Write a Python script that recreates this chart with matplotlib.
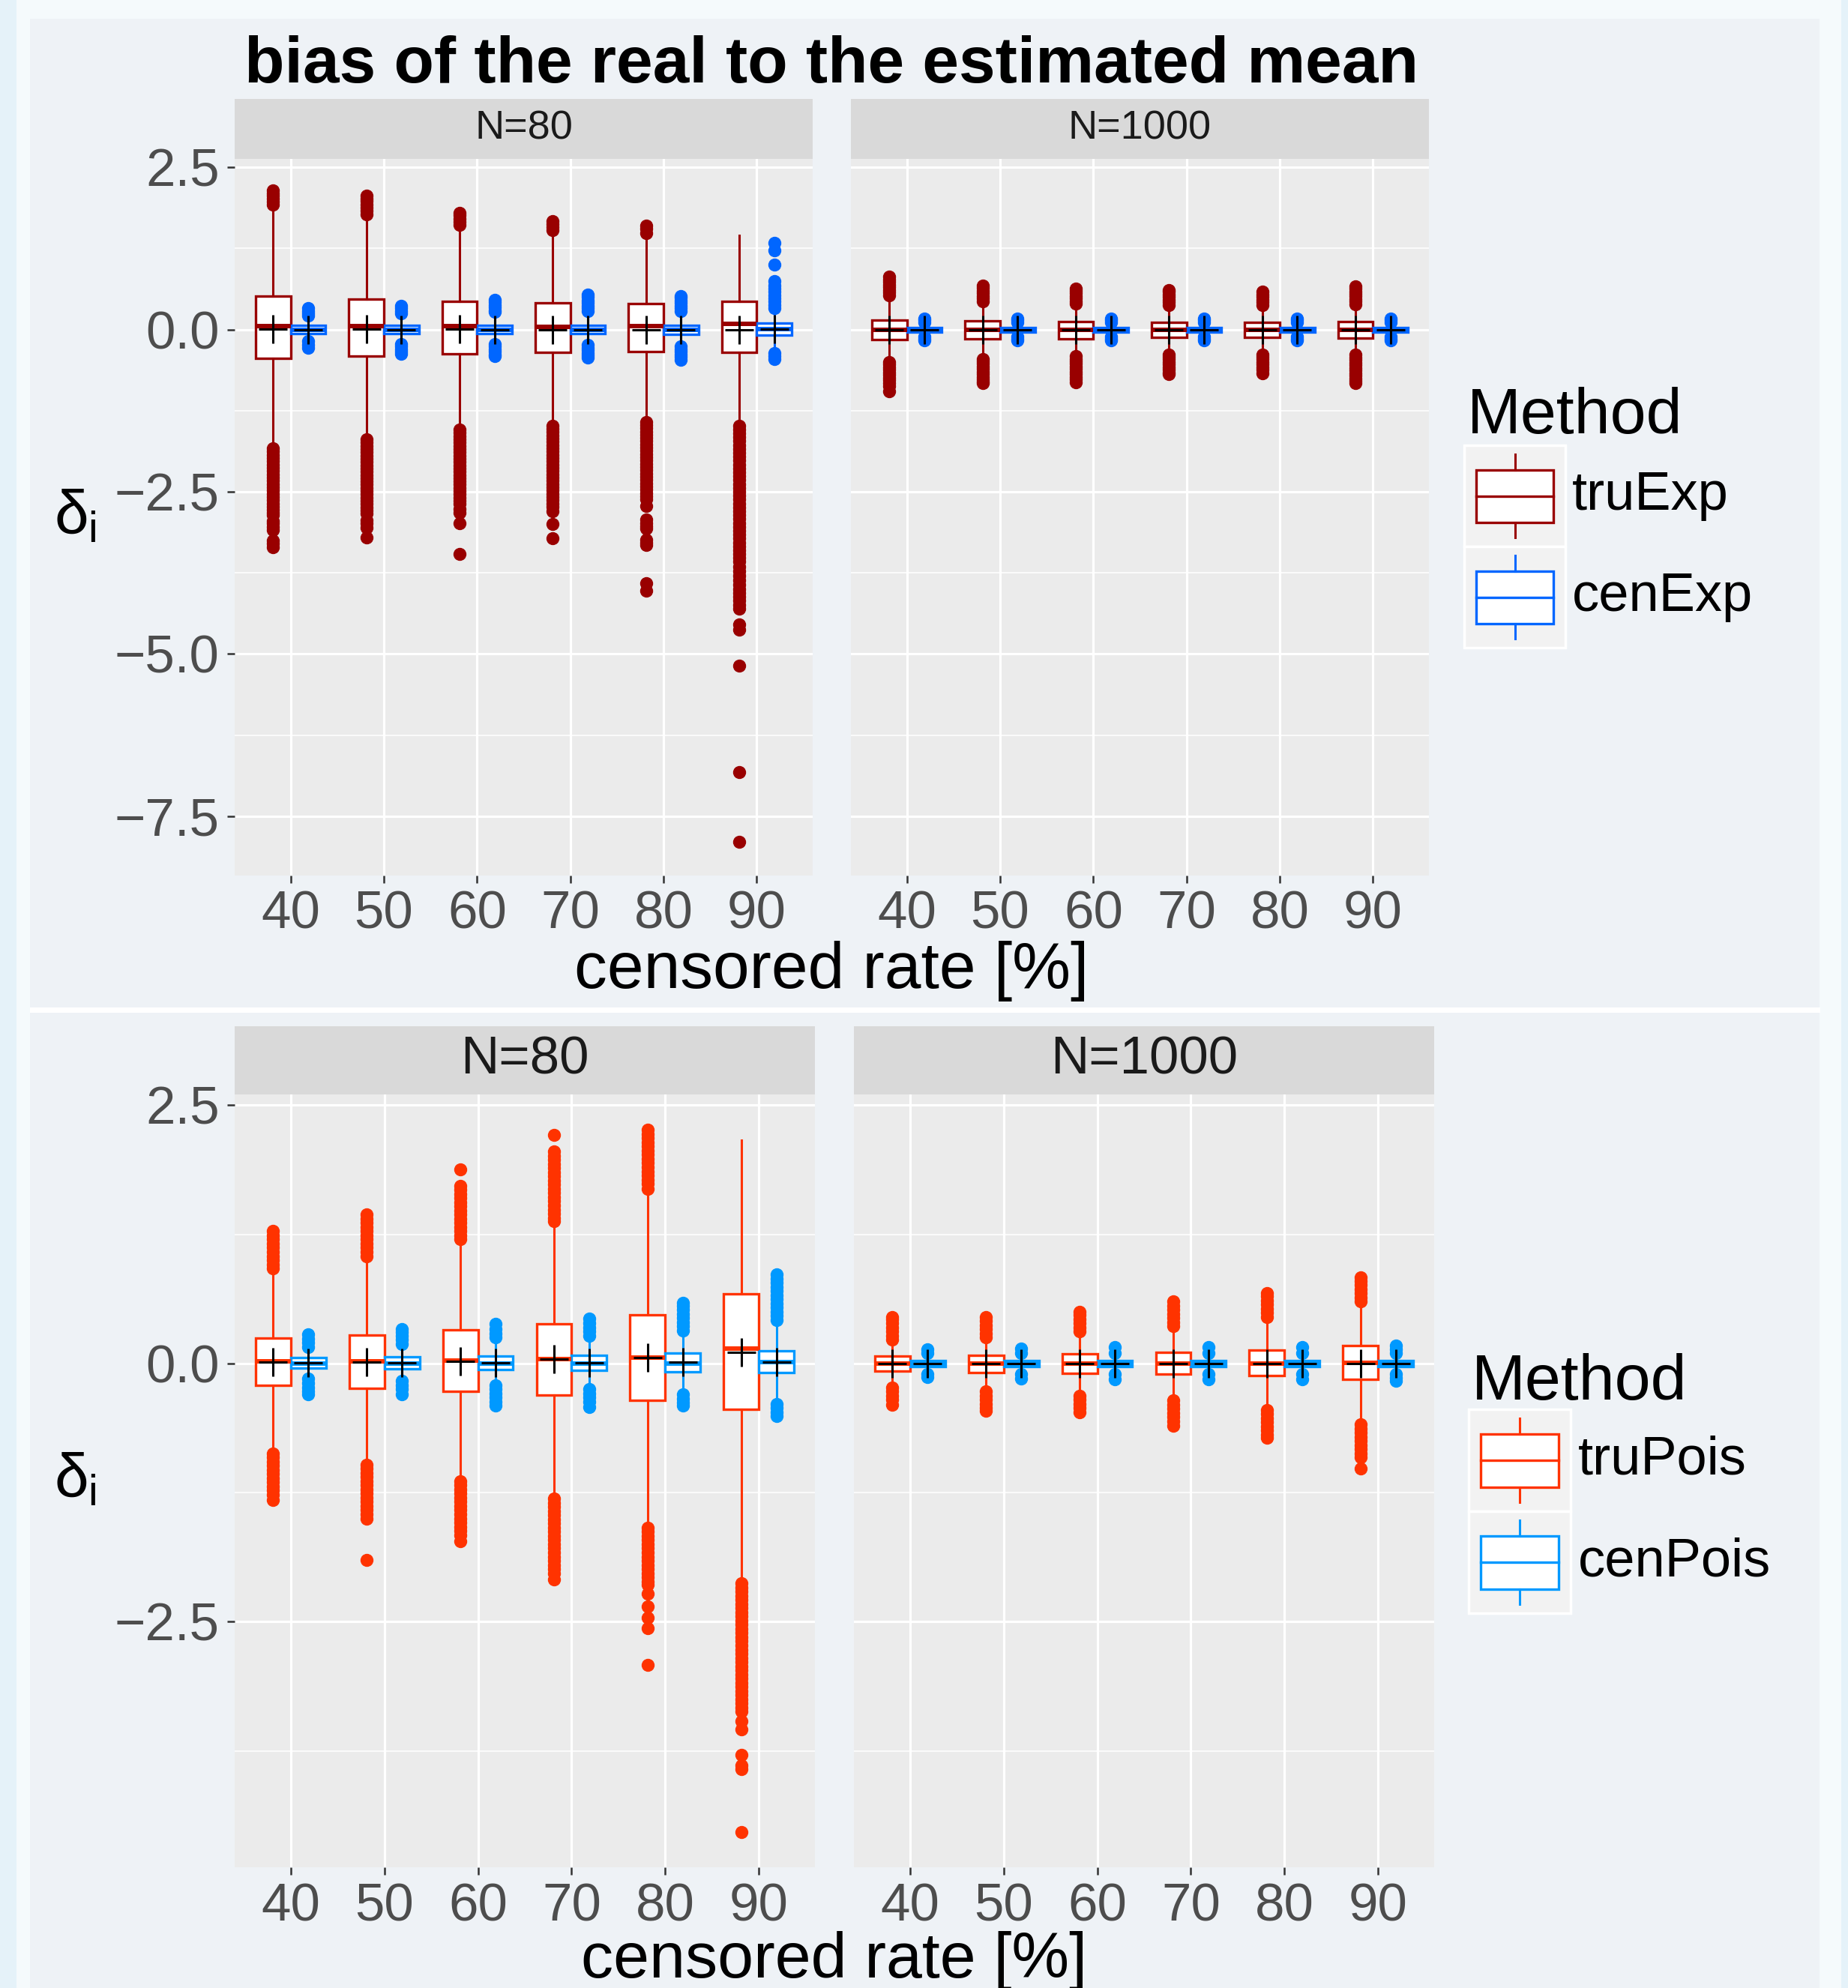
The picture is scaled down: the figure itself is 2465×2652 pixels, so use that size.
import numpy as np
import matplotlib
matplotlib.use("Agg")
import matplotlib.pyplot as plt
from matplotlib.patches import Rectangle

plt.rcParams['font.family'] = ['Liberation Sans', 'DejaVu Sans']
plt.rcParams['mathtext.fontset'] = 'custom'
plt.rcParams['mathtext.rm'] = 'Liberation Sans'
plt.rcParams['mathtext.it'] = 'Liberation Sans'

W, H = 2465, 2652

# ---- data ----
rates = ['40', '50', '60', '70', '80', '90']
sizes = ['N=80', 'N=1000']

top_yticks = [-7.5, -5.0, -2.5, 0.0, 2.5]
top_ylabels = ['\u22127.5', '\u22125.0', '\u22122.5', '0.0', '2.5']
top_minor = [-6.25, -3.75, -1.25, 1.25]
bot_yticks = [-2.5, 0.0, 2.5]
bot_ylabels = ['\u22122.5', '0.0', '2.5']
bot_minor = [-3.75, -1.25, 1.25]

# box stats per censored rate: (whislo, q1, med, q3, whishi, mean)
exp80_tru = [(-1.77, -0.44, 0.058, 0.52, 1.88, 0.01),
             (-1.62, -0.41, 0.058, 0.47, 1.72, 0.005),
             (-1.50, -0.375, 0.058, 0.43, 1.57, 0.01),
             (-1.44, -0.355, 0.045, 0.41, 1.50, 0.0),
             (-1.38, -0.334, 0.058, 0.40, 1.46, 0.0),
             (-1.44, -0.346, 0.087, 0.43, 1.45, 0.0)]
exp80_tru_out = [
    [2.14, 2.10, 2.06, 2.02, 1.97, 1.92,
     -1.83, -1.88, -1.93, -1.98, -2.03, -2.08, -2.13, -2.18, -2.23, -2.28, -2.33, -2.38, -2.43,
     -2.48, -2.53, -2.58, -2.63, -2.68, -2.73, -2.78, -2.82, -2.86, -2.95, -2.99, -3.04, -3.09,
     -3.25, -3.30, -3.36],
    [2.06, 2.02, 1.98, 1.93, 1.88, 1.83, 1.78,
     -1.69, -1.74, -1.79, -1.84, -1.89, -1.94, -1.99, -2.04, -2.09, -2.14, -2.19, -2.24, -2.29,
     -2.34, -2.39, -2.44, -2.49, -2.54, -2.59, -2.64, -2.69, -2.74, -2.79, -2.84, -2.94, -2.99,
     -3.06, -3.21],
    [1.80, 1.76, 1.71, 1.66, 1.61,
     -1.54, -1.59, -1.64, -1.69, -1.74, -1.79, -1.84, -1.89, -1.94, -1.99, -2.04, -2.09, -2.14,
     -2.19, -2.24, -2.29, -2.34, -2.39, -2.44, -2.49, -2.54, -2.59, -2.64, -2.69, -2.76, -2.82,
     -2.98, -3.46],
    [1.67, 1.63, 1.58, 1.53,
     -1.48, -1.53, -1.58, -1.63, -1.68, -1.73, -1.78, -1.83, -1.88, -1.93, -1.98, -2.03, -2.08,
     -2.13, -2.18, -2.23, -2.28, -2.33, -2.38, -2.43, -2.48, -2.53, -2.58, -2.63, -2.68, -2.73,
     -2.80, -3.00, -3.22],
    [1.60, 1.55, 1.49,
     -1.42, -1.47, -1.52, -1.57, -1.62, -1.67, -1.72, -1.77, -1.82, -1.87, -1.92, -1.97, -2.02,
     -2.07, -2.12, -2.17, -2.22, -2.27, -2.32, -2.37, -2.42, -2.47, -2.52, -2.57, -2.62, -2.72,
     -2.93, -2.98, -3.03, -3.07, -3.24, -3.28, -3.32, -3.91, -4.02],
    [-1.48, -1.54, -1.60, -1.66, -1.72, -1.78, -1.84, -1.90, -1.96, -2.02, -2.08, -2.14, -2.20,
     -2.26, -2.32, -2.38, -2.44, -2.50, -2.56, -2.62, -2.68, -2.74, -2.80, -2.86, -2.92, -2.98,
     -3.04, -3.10, -3.16, -3.22, -3.28, -3.34, -3.40, -3.46, -3.52, -3.58, -3.65, -3.72, -3.79,
     -3.86, -3.93, -4.00, -4.06, -4.12, -4.18, -4.24, -4.30, -4.55, -4.63, -5.18, -6.82, -7.90]]

exp80_cen = [(-0.15, -0.06, 0.0, 0.06, 0.18, 0.0),
             (-0.18, -0.06, 0.0, 0.06, 0.21, 0.0),
             (-0.18, -0.065, 0.0, 0.065, 0.23, 0.0),
             (-0.20, -0.065, 0.0, 0.07, 0.25, 0.0),
             (-0.22, -0.07, 0.0, 0.07, 0.25, 0.0),
             (-0.32, -0.08, 0.01, 0.10, 0.29, 0.01)]
exp80_cen_out = [
    [0.21, 0.25, 0.29, 0.33, -0.18, -0.23, -0.28],
    [0.25, 0.29, 0.33, 0.37, -0.22, -0.26, -0.30, -0.34, -0.37],
    [0.27, 0.30, 0.34, 0.38, 0.42, 0.46, -0.22, -0.26, -0.30, -0.34, -0.38, -0.41],
    [0.29, 0.33, 0.37, 0.41, 0.45, 0.50, 0.54, -0.24, -0.28, -0.32, -0.36, -0.40, -0.43],
    [0.29, 0.33, 0.37, 0.41, 0.45, 0.49, 0.52, -0.26, -0.30, -0.34, -0.38, -0.42, -0.47],
    [0.33, 0.38, 0.43, 0.48, 0.53, 0.58, 0.63, 0.68, 0.75, 1.00, 1.22, 1.34, -0.36, -0.41, -0.46]]

exp1000_tru = [(-0.45, -0.154, 0.0, 0.146, 0.48, 0.0),
               (-0.41, -0.146, 0.0, 0.135, 0.40, 0.0),
               (-0.37, -0.139, 0.0, 0.123, 0.36, 0.0),
               (-0.34, -0.123, 0.0, 0.115, 0.34, 0.0),
               (-0.34, -0.123, 0.0, 0.115, 0.34, 0.0),
               (-0.35, -0.131, 0.0, 0.123, 0.35, 0.0)]
exp1000_tru_out = [
    [0.53, 0.57, 0.61, 0.65, 0.69, 0.73, 0.77, 0.82,
     -0.50, -0.54, -0.58, -0.62, -0.66, -0.70, -0.74, -0.78, -0.82, -0.87, -0.95],
    [0.44, 0.48, 0.52, 0.56, 0.60, 0.64, 0.68,
     -0.45, -0.49, -0.53, -0.57, -0.61, -0.65, -0.69, -0.73, -0.77, -0.80, -0.83],
    [0.40, 0.44, 0.48, 0.52, 0.56, 0.60, 0.63,
     -0.41, -0.45, -0.49, -0.53, -0.57, -0.61, -0.65, -0.69, -0.73, -0.77, -0.81],
    [0.38, 0.42, 0.46, 0.50, 0.54, 0.58, 0.61,
     -0.38, -0.42, -0.46, -0.50, -0.54, -0.58, -0.62, -0.66, -0.69],
    [0.38, 0.42, 0.46, 0.50, 0.54, 0.59,
     -0.38, -0.42, -0.46, -0.50, -0.54, -0.58, -0.62, -0.67],
    [0.39, 0.43, 0.47, 0.51, 0.55, 0.59, 0.63, 0.66,
     -0.39, -0.43, -0.47, -0.51, -0.55, -0.59, -0.63, -0.67, -0.71, -0.75, -0.79, -0.82]]

exp1000_cen = [(-0.09, -0.035, 0.0, 0.035, 0.09, 0.0)] * 6
exp1000_cen_out = [[0.11, 0.14, 0.17, -0.11, -0.14, -0.17]] * 6

pois80_tru = [(-0.83, -0.212, 0.021, 0.246, 0.87, 0.013),
              (-0.94, -0.244, 0.021, 0.272, 0.98, 0.013),
              (-1.10, -0.27, 0.028, 0.324, 1.14, 0.02),
              (-1.27, -0.303, 0.041, 0.383, 1.34, 0.039),
              (-1.54, -0.355, 0.06, 0.469, 1.65, 0.054),
              (-2.06, -0.446, 0.143, 0.676, 2.16, 0.106)]
pois80_tru_out = [
    [1.28, 1.24, 1.20, 1.16, 1.12, 1.08, 1.04, 1.00, 0.96, 0.92,
     -0.87, -0.91, -0.95, -0.99, -1.03, -1.07, -1.11, -1.15, -1.19, -1.23, -1.27, -1.32],
    [1.44, 1.40, 1.36, 1.32, 1.28, 1.24, 1.20, 1.16, 1.12, 1.08, 1.04,
     -0.98, -1.02, -1.06, -1.10, -1.14, -1.18, -1.22, -1.26, -1.30, -1.34, -1.38, -1.42, -1.46,
     -1.50, -1.90],
    [1.88, 1.72, 1.68, 1.64, 1.60, 1.56, 1.52, 1.48, 1.44, 1.40, 1.36, 1.32, 1.28, 1.24, 1.20,
     -1.14, -1.18, -1.22, -1.26, -1.30, -1.34, -1.38, -1.42, -1.46, -1.50, -1.54, -1.58, -1.62,
     -1.66, -1.72],
    [2.21, 2.05, 2.01, 1.97, 1.93, 1.89, 1.85, 1.81, 1.77, 1.73, 1.69, 1.65, 1.61, 1.57, 1.53,
     1.49, 1.45, 1.41, 1.38,
     -1.31, -1.35, -1.39, -1.43, -1.47, -1.51, -1.55, -1.59, -1.63, -1.67, -1.71, -1.75, -1.79,
     -1.83, -1.87, -1.91, -1.95, -1.99, -2.03, -2.09],
    [2.26, 2.22, 2.18, 2.14, 2.10, 2.06, 2.02, 1.98, 1.94, 1.90, 1.86, 1.82, 1.78, 1.74, 1.69,
     -1.59, -1.63, -1.67, -1.71, -1.75, -1.79, -1.83, -1.87, -1.91, -1.95, -1.99, -2.03, -2.07,
     -2.11, -2.14, -2.23, -2.35, -2.46, -2.56, -2.92],
    [-2.13, -2.17, -2.21, -2.25, -2.29, -2.33, -2.37, -2.41, -2.45, -2.49, -2.53, -2.57, -2.61,
     -2.65, -2.69, -2.73, -2.77, -2.81, -2.85, -2.89, -2.93, -2.97, -3.01, -3.05, -3.09, -3.13,
     -3.17, -3.21, -3.25, -3.29, -3.33, -3.37, -3.46, -3.54, -3.79, -3.89, -3.93, -4.54]]

pois80_cen = [(-0.12, -0.044, 0.0, 0.054, 0.13, 0.005),
              (-0.13, -0.05, 0.0, 0.065, 0.15, 0.005),
              (-0.17, -0.06, 0.0, 0.07, 0.21, 0.005),
              (-0.21, -0.07, 0.0, 0.08, 0.23, 0.005),
              (-0.26, -0.078, 0.0, 0.098, 0.28, 0.01),
              (-0.34, -0.091, 0.01, 0.124, 0.38, 0.01)]
pois80_cen_out = [
    [0.16, 0.20, 0.24, 0.28, -0.15, -0.19, -0.23, -0.27, -0.30],
    [0.19, 0.23, 0.27, 0.30, 0.33, -0.17, -0.21, -0.25, -0.30],
    [0.25, 0.29, 0.33, 0.38, -0.21, -0.25, -0.29, -0.33, -0.37, -0.41],
    [0.27, 0.31, 0.35, 0.39, 0.435, -0.25, -0.29, -0.33, -0.37, -0.42],
    [0.32, 0.36, 0.40, 0.44, 0.48, 0.52, 0.56, 0.59, -0.30, -0.34, -0.38, -0.41],
    [0.42, 0.46, 0.50, 0.54, 0.58, 0.62, 0.66, 0.70, 0.74, 0.78, 0.82, 0.86,
     -0.39, -0.43, -0.47, -0.51]]

pois1000_tru = [(-0.20, -0.073, 0.0, 0.073, 0.19, 0.0),
                (-0.23, -0.085, 0.0, 0.077, 0.22, 0.0),
                (-0.28, -0.097, 0.0, 0.09, 0.27, 0.0),
                (-0.33, -0.104, 0.0, 0.104, 0.32, 0.0),
                (-0.41, -0.121, 0.0, 0.128, 0.41, 0.0),
                (-0.56, -0.152, 0.007, 0.17, 0.57, 0.0)]
pois1000_tru_out = [
    [0.23, 0.27, 0.31, 0.35, 0.39, 0.43, 0.45, -0.23, -0.27, -0.31, -0.35, -0.40],
    [0.25, 0.29, 0.33, 0.37, 0.41, 0.45, -0.27, -0.31, -0.35, -0.39, -0.43, -0.46],
    [0.31, 0.35, 0.39, 0.43, 0.47, 0.50, -0.31, -0.35, -0.39, -0.43, -0.47],
    [0.36, 0.40, 0.44, 0.48, 0.52, 0.56, 0.60, -0.36, -0.40, -0.44, -0.48, -0.52, -0.56, -0.60],
    [0.45, 0.49, 0.53, 0.57, 0.61, 0.65, 0.68,
     -0.45, -0.49, -0.53, -0.57, -0.61, -0.65, -0.69, -0.72],
    [0.60, 0.64, 0.68, 0.72, 0.76, 0.80, 0.83,
     -0.59, -0.63, -0.67, -0.71, -0.75, -0.79, -0.83, -0.87, -0.91, -1.02]]

pois1000_cen = [(-0.07, -0.03, 0.0, 0.03, 0.07, 0.0)] * 6
pois1000_cen_out = [[0.10, 0.133, -0.10, -0.133],
                    [0.10, 0.145, -0.10, -0.145],
                    [0.10, 0.155, -0.10, -0.155],
                    [0.10, 0.155, -0.10, -0.155],
                    [0.10, 0.155, -0.10, -0.155],
                    [0.10, 0.14, 0.17, -0.10, -0.14, -0.17]]

exp_methods = ['truExp', 'cenExp']
pois_methods = ['truPois', 'cenPois']
exp_colors = ['#990000', '#0066FF']
pois_colors = ['#FF3300', '#0099FF']


def frac(x0, y0, x1, y1):
    return [x0 / W, 1 - y1 / H, (x1 - x0) / W, (y1 - y0) / H]


def to_dicts(stats, fliers):
    out = []
    for (lo, q1, med, q3, hi, mean), fl in zip(stats, fliers):
        out.append(dict(whislo=lo, q1=q1, med=med, q3=q3, whishi=hi, mean=mean,
                        fliers=np.array(fl)))
    return out


def panel(ax, series, colors, ylim, yticks, ylabels, minor, show_y):
    ax.set_facecolor('#EBEBEB')
    for s in ax.spines.values():
        s.set_visible(False)
    ax.set_xlim(0.4, 6.6)
    ax.set_ylim(*ylim)
    ax.set_xticks(range(1, 7))
    ax.set_xticklabels(rates)
    ax.set_yticks(yticks)
    ax.set_yticklabels(ylabels)
    ax.set_yticks(minor, minor=True)
    ax.set_axisbelow(True)
    ax.grid(which='major', color='white', lw=2.3)
    ax.grid(which='minor', axis='y', color='white', lw=1.15)
    ax.tick_params(which='minor', length=0)
    ax.tick_params(which='major', length=7.5, width=1.8, color='#333333',
                   labelsize=51, labelcolor='#4D4D4D', pad=7)
    if not show_y:
        ax.tick_params(axis='y', length=0, labelleft=False)
    pos = np.arange(1, 7)
    for (stats, fl), col, off in zip(series, colors, [-0.1875, 0.1875]):
        ax.bxp(to_dicts(stats, fl), positions=pos + off, widths=0.375,
               showmeans=True, showcaps=False, patch_artist=True, manage_ticks=False,
               boxprops=dict(facecolor='white', edgecolor=col, linewidth=2.4),
               medianprops=dict(color=col, linewidth=4.3),
               whiskerprops=dict(color=col, linewidth=2.2),
               flierprops=dict(marker='o', markerfacecolor=col, markeredgecolor=col,
                               markersize=11.5, linestyle='none'),
               meanprops=dict(marker='+', markeredgecolor='black', markersize=27,
                              markeredgewidth=2.2))


def legend(bg, tx, ty, kx, ky, ks, lx, labels, colors):
    bg.text(tx, ty, 'Method', fontsize=62, ha='left', va='baseline')
    for i, (lab, col) in enumerate(zip(labels, colors)):
        y0 = ky + i * ks
        bg.add_patch(Rectangle((kx, y0), ks, ks, facecolor='#F2F2F2', edgecolor='white', lw=2.5))
        bx0, bx1 = kx + 0.12 * ks, kx + 0.88 * ks
        by0, by1 = y0 + 0.245 * ks, y0 + 0.765 * ks
        bg.add_patch(Rectangle((bx0, by0), bx1 - bx0, by1 - by0, facecolor='white',
                               edgecolor=col, lw=2.4))
        cx, cy = kx + ks / 2, y0 + ks / 2
        bg.plot([bx0, bx1], [cy, cy], color=col, lw=2.4)
        bg.plot([cx, cx], [y0 + 0.09 * ks, by0], color=col, lw=2.2)
        bg.plot([cx, cx], [by1, y0 + 0.91 * ks], color=col, lw=2.2)
        bg.text(lx, cy, lab, fontsize=52, ha='left', va='center')


fig = plt.figure(figsize=(W / 100, H / 100), dpi=100, facecolor='#F5FAFC')
bg = fig.add_axes([0, 0, 1, 1], zorder=0)
bg.set_xlim(0, W)
bg.set_ylim(H, 0)
bg.axis('off')

bg.add_patch(Rectangle((0, 0), 22, H, facecolor='#E5F2F9', lw=0))
bg.add_patch(Rectangle((2456, 0), 9, H, facecolor='#E5F2F9', lw=0))
bg.add_patch(Rectangle((40, 25), 2387, 1319, facecolor='#EEF2F6', lw=0))
bg.add_patch(Rectangle((40, 1351), 2387, H - 1351, facecolor='#EEF2F6', lw=0))
bg.add_patch(Rectangle((40, 1344), 2388, 7, facecolor='white', lw=0))

# strips
for (x0, x1), lab in zip([(313, 1084), (1135, 1906)], sizes):
    bg.add_patch(Rectangle((x0, 131.6), x1 - x0, 80.1, facecolor='#D9D9D9', lw=0))
    bg.text((x0 + x1) / 2, 171.6, lab, fontsize=39, color='#1A1A1A', ha='center', va='center')
for (x0, x1), lab in zip([(313, 1087), (1139, 1913)], sizes):
    bg.add_patch(Rectangle((x0, 1369), x1 - x0, 91, facecolor='#D9D9D9', lw=0))
    bg.text((x0 + x1) / 2, 1414.5, lab, fontsize=51, color='#1A1A1A', ha='center', va='center')

top_lim = (-8.409, 2.633)
bot_lim = (-4.878, 2.604)

ax1 = fig.add_axes(frac(313, 211.7, 1084, 1167.5), zorder=1)
panel(ax1, [(exp80_tru, exp80_tru_out), (exp80_cen, exp80_cen_out)], exp_colors,
      top_lim, top_yticks, top_ylabels, top_minor, True)
ax2 = fig.add_axes(frac(1135, 211.7, 1906, 1167.5), zorder=1)
panel(ax2, [(exp1000_tru, exp1000_tru_out), (exp1000_cen, exp1000_cen_out)], exp_colors,
      top_lim, top_yticks, top_ylabels, top_minor, False)
ax3 = fig.add_axes(frac(313, 1460, 1087, 2491), zorder=1)
panel(ax3, [(pois80_tru, pois80_tru_out), (pois80_cen, pois80_cen_out)], pois_colors,
      bot_lim, bot_yticks, bot_ylabels, bot_minor, True)
ax4 = fig.add_axes(frac(1139, 1460, 1913, 2491), zorder=1)
panel(ax4, [(pois1000_tru, pois1000_tru_out), (pois1000_cen, pois1000_cen_out)], pois_colors,
      bot_lim, bot_yticks, bot_ylabels, bot_minor, False)

bg.text(1109, 110, 'bias of the real to the estimated mean', fontsize=63,
        fontweight='bold', ha='center', va='baseline')
bg.text(1109, 1318, 'censored rate [%]', fontsize=63, ha='center', va='baseline')
# as in the reference, this label sits right at the bottom edge
bg.text(1113, 2638, 'censored rate [%]', fontsize=62, ha='center', va='baseline')
bg.text(100, 690, r'$\delta_\mathrm{i}$', fontsize=59, ha='center', va='center')
bg.text(100, 1975, r'$\delta_\mathrm{i}$', fontsize=59, ha='center', va='center')

legend(bg, 1957, 578, 1953, 594, 135, 2097, exp_methods, exp_colors)
legend(bg, 1963, 1867, 1959, 1880, 136, 2105, pois_methods, pois_colors)

fig.savefig('out.png', dpi=100, facecolor=fig.get_facecolor())
